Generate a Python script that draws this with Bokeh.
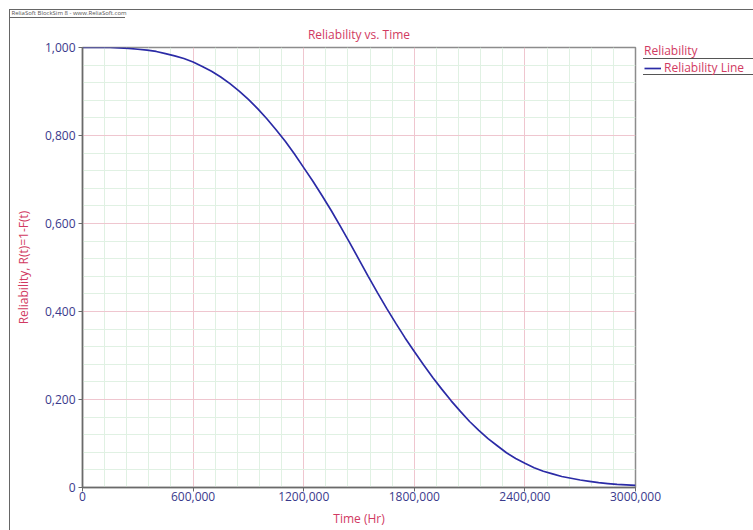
import numpy as np
from bokeh.plotting import figure
from bokeh.models import Range1d, FixedTicker, Legend, LegendItem, Title
from bokeh.embed import file_html
from bokeh.resources import INLINE

# Reliability curve R(t), sampled every 50,000 hr
time_hr = [0, 50000, 100000, 150000, 200000, 250000, 300000, 350000, 400000, 450000,
           500000, 550000, 600000, 650000, 700000, 750000, 800000, 850000, 900000, 950000,
           1000000, 1050000, 1100000, 1150000, 1200000, 1250000, 1300000, 1350000,
           1400000, 1450000, 1500000, 1550000, 1600000, 1650000, 1700000, 1750000,
           1800000, 1850000, 1900000, 1950000, 2000000, 2050000, 2100000, 2150000,
           2200000, 2250000, 2300000, 2350000, 2400000, 2450000, 2500000, 2550000,
           2600000, 2650000, 2700000, 2750000, 2800000, 2850000, 2900000, 2950000, 3000000]
reliability = [1.000, 1.000, 1.000, 1.000, 0.999, 0.998, 0.996, 0.994, 0.991, 0.986,
               0.981, 0.975, 0.967, 0.957, 0.946, 0.933, 0.918, 0.901, 0.882, 0.861,
               0.838, 0.813, 0.787, 0.758, 0.727, 0.696, 0.663, 0.629,
               0.593, 0.556, 0.518, 0.480, 0.443, 0.407, 0.373, 0.340,
               0.309, 0.279, 0.250, 0.223, 0.197, 0.173, 0.150, 0.130,
               0.111, 0.095, 0.079, 0.066, 0.055, 0.045, 0.037, 0.031,
               0.025, 0.021, 0.017, 0.014, 0.011, 0.009, 0.007, 0.006, 0.005]

x_ticks = [0, 600000, 1200000, 1800000, 2400000, 3000000]
x_tick_labels = ["0", "600,000", "1200,000", "1800,000", "2400,000", "3000,000"]
y_ticks = [0.0, 0.2, 0.4, 0.6, 0.8, 1.0]
y_tick_labels = ["0", "0,200", "0,400", "0,600", "0,800", "1,000"]

title_text = "Reliability vs. Time"
x_title = "Time (Hr)"
y_title = "Reliability, R(t)=1-F(t)"
legend_title = "Reliability"
series_name = "Reliability Line"
header_text = "ReliaSoft BlockSim 8 - www.ReliaSoft.com"

FONT = "Open Sans"
RED = "#d13a62"
NAVY = "#3a3a8c"
LINE = "#2b2ba6"
RULE = "#666666"

p = figure(frame_width=553, frame_height=440, output_backend="svg", toolbar_location=None,
           x_range=Range1d(0, 3000000), y_range=Range1d(0, 1),
           min_border_left=82, min_border_right=118, min_border_top=47, min_border_bottom=43)
p.title = None
p.background_fill_color = "white"
p.border_fill_alpha = 0
p.outline_line_color = "#8c8c8c"
p.outline_line_width = 1.5

# page frame, header strip rule and legend rules, painted behind the canvas
rules = [  # (left, top, width, height, colour)
    (9, 9, 744, 1, RULE),
    (9, 9, 1, 521, RULE),
    (9, 17, 116, 1, RULE),
    (643, 58, 110, 1, "#555555"),
    (643, 74, 110, 1, "#555555"),
]
p.styles = {
    "background-color": "white",
    "background-image": ", ".join(f"linear-gradient({c}, {c})" for *_, c in rules),
    "background-size": ", ".join(f"{w}px {h}px" for _, _, w, h, _ in rules),
    "background-position": ", ".join(f"{l}px {t}px" for l, t, _, _, _ in rules),
    "background-repeat": "no-repeat",
}

# chart title (next to the frame) and header strip text (outermost)
main_title = Title(text=title_text, text_font=FONT, text_font_size="12px",
                   text_font_style="normal", text_color=RED, align="center", standoff=9)
header = Title(text=header_text, text_font=FONT, text_font_size="6px",
               text_font_style="normal", text_color="#555555", align="left",
               offset=-71, standoff=6)
p.above = [main_title, header]

# ticks and grids
x_minor = [v for v in range(0, 3000001, 120000) if v % 600000]
y_minor = [round(k * 0.04, 2) for k in range(26) if k % 5]
p.xaxis.ticker = FixedTicker(ticks=x_ticks, minor_ticks=x_minor)
p.yaxis.ticker = FixedTicker(ticks=y_ticks, minor_ticks=y_minor)
p.xaxis.major_label_overrides = dict(zip(x_ticks, x_tick_labels))
p.yaxis.major_label_overrides = dict(zip(y_ticks, y_tick_labels))
for ax in (p.xaxis, p.yaxis):
    ax.axis_line_color = "#6a6a6a"
    ax.axis_line_width = 1.5
    ax.major_tick_line_color = "#6a6a6a"
    ax.major_tick_in = 0
    ax.major_tick_out = 4
    ax.minor_tick_line_color = None
    ax.major_label_text_font = FONT
    ax.major_label_text_font_size = "12px"
    ax.major_label_text_color = NAVY
    ax.axis_label_text_font = FONT
    ax.axis_label_text_font_size = "12px"
    ax.axis_label_text_font_style = "normal"
    ax.axis_label_text_color = RED
p.xaxis.major_label_standoff = 0
p.yaxis.major_label_standoff = 3
p.yaxis.major_label_orientation = "horizontal"
p.xaxis.axis_label = x_title
p.yaxis.axis_label = y_title
p.xaxis.axis_label_standoff = 6
p.yaxis.axis_label_standoff = 10

for g in (p.xgrid, p.ygrid):
    g.grid_line_color = "#efc6cf"
    g.grid_line_width = 1
    g.minor_grid_line_color = "#e0f1e3"
    g.minor_grid_line_width = 1

curve = p.line(time_hr, reliability, line_color=LINE, line_width=1.7)

legend = Legend(items=[LegendItem(label=series_name, renderers=[curve])],
                title=legend_title, location=(9, 411))
legend.title_text_font = FONT
legend.title_text_font_size = "12px"
legend.title_text_font_style = "normal"
legend.title_text_color = RED
legend.title_standoff = 0
legend.label_text_font = FONT
legend.label_text_font_size = "12px"
legend.label_text_color = RED
legend.label_standoff = 3
legend.label_height = 12
legend.glyph_width = 17
legend.glyph_height = 12
legend.spacing = 0
legend.padding = 0
legend.margin = 0
legend.border_line_color = None
legend.background_fill_alpha = 0
p.add_layout(legend, "right")

open("out.html", "w").write(file_html(p, INLINE))
